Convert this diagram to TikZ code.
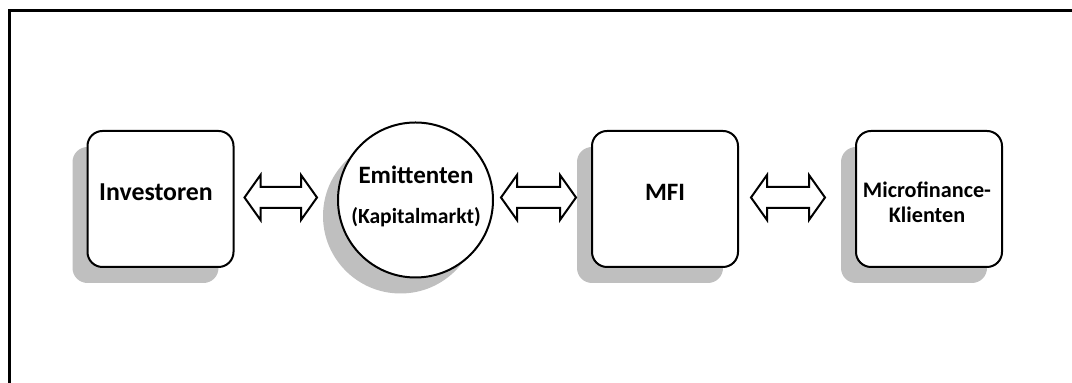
\documentclass[tikz,border=0pt]{standalone}
\usepackage{fontspec}
\setmainfont{Carlito}
\usetikzlibrary{calc,shadows}
\definecolor{shadowgray}{RGB}{191,191,191}
% double-headed block arrow between two tip points on one horizontal line
\newcommand\dblblockarrow[2]{%
  \draw[blockarrow] (#1) -- ($(#1)+(16,-22.5)$) -- ($(#1)+(16,-10.5)$)
    -- ($(#2)+(-16,-10.5)$) -- ($(#2)+(-16,-22.5)$) -- (#2)
    -- ($(#2)+(-16,22.5)$) -- ($(#2)+(-16,10.5)$)
    -- ($(#1)+(16,10.5)$) -- ($(#1)+(16,22.5)$) -- cycle;}
\begin{document}
\begin{tikzpicture}[x=0.5pt,y=-0.5pt,
  softshadow/.style={drop shadow={shadow xshift=-7.5pt, shadow yshift=-8pt,
      fill=shadowgray, opacity=1}},
  card/.style={draw=black, line width=1pt, fill=white, rounded corners=7.5pt,
      minimum width=73pt, minimum height=68pt, inner sep=0pt, softshadow},
  disc/.style={draw=black, line width=1pt, fill=white, circle,
      minimum size=77.5pt, inner sep=0pt, softshadow},
  blockarrow/.style={draw=black, line width=1pt, fill=white, line join=miter},
  caption/.style={font=\bfseries\fontsize{12.5}{15}\selectfont, inner sep=0pt, align=center},
  bigcaption/.style={caption, font=\bfseries\fontsize{12.9}{15}\selectfont},
  smallcaption/.style={font=\bfseries\fontsize{10.8}{13}\selectfont, inner sep=0pt},
  twolinecaption/.style={caption, font=\bfseries\fontsize{11.1}{12.5}\selectfont},
]
\useasboundingbox (0,0) rectangle (1072,383);
\begin{scope}
  \clip (0,0) rectangle (1072,383);
  \draw[line width=1.5pt] (9.5,10.5) rectangle (1100,420);
\end{scope}

% boxes and circle
\node[card] (inv) at (160.5,199) {};
\node[disc] (emi) at (415.5,200) {};
\node[card] (mfi) at (665,199) {};
\node[card] (kli) at (929,199) {};

% labels
\node[bigcaption] (invtext) at (156,192) {Investoren};
\node[caption] (emitext) at (416,175) {Emittenten};
\node[smallcaption] (kaptext) at (416,217) {(Kapitalmarkt)};
\node[caption] (mfitext) at (665,192) {MFI};
\node[twolinecaption] (klitext) at (927,202) {Microfinance-\\Klienten};

% arrow tips
\coordinate (a1l) at ($(inv.east)+(10,-1.5)$);
\coordinate (a1r) at ($(emi.west)+(-20,-2.5)$);
\coordinate (a2l) at ($(emi.east)+(7,-2.5)$);
\coordinate (a2r) at ($(mfi.west)+(-15,-1.5)$);
\coordinate (a3l) at ($(mfi.east)+(12,-1.5)$);
\coordinate (a3r) at ($(kli.west)+(-30,-1.5)$);

\dblblockarrow{a1l}{a1r}
\dblblockarrow{a2l}{a2r}
\dblblockarrow{a3l}{a3r}
\end{tikzpicture}
\end{document}
